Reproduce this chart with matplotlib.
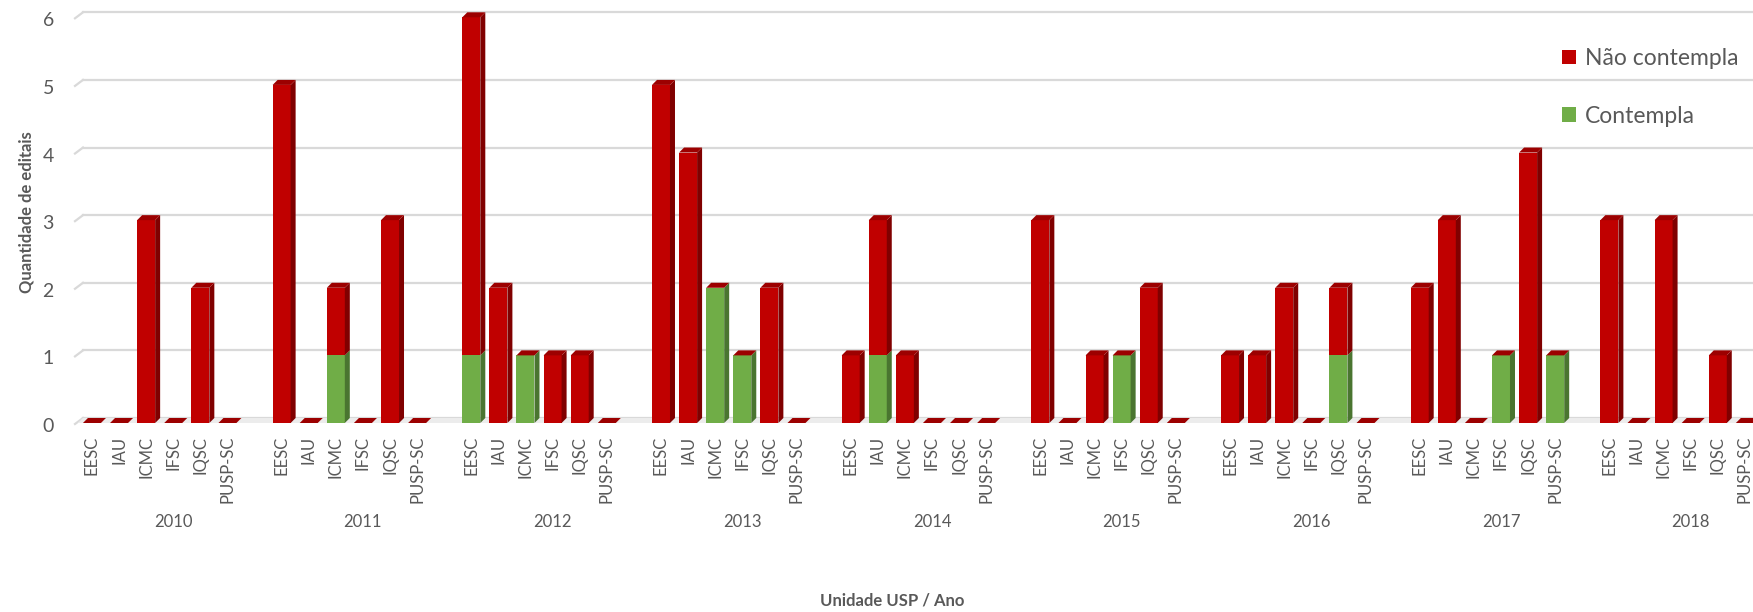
import numpy as np
import matplotlib
matplotlib.use('Agg')
import matplotlib.pyplot as plt
from matplotlib.patches import Polygon, Patch
from matplotlib.transforms import ScaledTranslation

plt.rcParams['font.family'] = ['Lato', 'DejaVu Sans']

units = ['EESC', 'IAU', 'ICMC', 'IFSC', 'IQSC', 'PUSP-SC']
years = ['2010', '2011', '2012', '2013', '2014', '2015', '2016', '2017', '2018']

# one row per year, columns follow `units`
contempla = [
    [0, 0, 0, 0, 0, 0],
    [0, 0, 1, 0, 0, 0],
    [1, 0, 1, 0, 0, 0],
    [0, 0, 2, 1, 0, 0],
    [0, 1, 0, 0, 0, 0],
    [0, 0, 0, 1, 0, 0],
    [0, 0, 0, 0, 1, 0],
    [0, 0, 0, 1, 0, 1],
    [0, 0, 0, 0, 0, 0],
]
nao_contempla = [
    [0, 0, 3, 0, 2, 0],
    [5, 0, 1, 0, 3, 0],
    [5, 2, 0, 1, 1, 0],
    [5, 4, 0, 0, 2, 0],
    [1, 2, 1, 0, 0, 0],
    [3, 0, 1, 0, 2, 0],
    [1, 1, 2, 0, 1, 0],
    [2, 3, 0, 0, 4, 0],
    [3, 0, 3, 0, 1, 0],
]

RED, RED_SIDE, RED_TOP = '#c00000', '#800000', '#9c0000'
GREEN, GREEN_SIDE = '#70ad47', '#4a7530'
GRID = '#d9d9d9'
TXT = '#595959'

W, H, DPI = 1753, 612, 100
fig = plt.figure(figsize=(W / DPI, H / DPI), dpi=DPI)

# axes placed in pixel terms: back wall from x=83, y gridlines 0 -> 418px, 6 -> 12px
left, right, y0px, y6px = 83, 1753, 418, 12.3
ax = fig.add_axes([left / W, 1 - y0px / H, (right - left) / W, (y0px - y6px) / H])

n_units = len(units)
slot = n_units + 1
xs = np.array([y * slot + u for y in range(len(years)) for u in range(n_units)], dtype=float)
green = np.array(contempla, dtype=float).ravel()
red = np.array(nao_contempla, dtype=float).ravel()

ax.set_xlim(-0.33, 61.3)
ax.set_ylim(0, 6)

px_x = (right - left) / (61.3 + 0.33)
px_y = (y0px - y6px) / 6
depth_px = 5
dx, dy = depth_px / px_x, depth_px / px_y
bw = 18 / px_x

# bars sit one depth below the back wall
shift = ax.transData + ScaledTranslation(0, -depth_px / DPI, fig.dpi_scale_trans)

# floor
floor = Polygon([(-0.33 - dx, 0), (70, 0), (70, dy), (-0.33, dy)], closed=True,
                facecolor='#ececec', edgecolor='none', transform=shift, clip_on=False, zorder=1)
ax.add_patch(floor)


def bar3d(x, b, h, face, side):
    if h <= 0:
        return
    l, r = x - bw / 2, x + bw / 2
    ax.add_patch(Polygon([(l, b), (r, b), (r, b + h), (l, b + h)], closed=True,
                         facecolor=face, edgecolor='none', transform=shift, clip_on=False, zorder=3))
    ax.add_patch(Polygon([(r, b), (r + dx, b + dy), (r + dx, b + h + dy), (r, b + h)], closed=True,
                         facecolor=side, edgecolor='none', transform=shift, clip_on=False, zorder=3))


for x, g, r in zip(xs, green, red):
    bar3d(x, 0, g, GREEN, GREEN_SIDE)
    bar3d(x, g, r, RED, RED_SIDE)
    top = g + r
    l, rr = x - bw / 2, x + bw / 2
    ax.add_patch(Polygon([(l, top), (rr, top), (rr + dx, top + dy), (l + dx, top + dy)], closed=True,
                         facecolor=RED_TOP, edgecolor='none', transform=shift, clip_on=False, zorder=3))

# gridlines with the small diagonal on the left side wall
yt = np.arange(0, 7)
for v in yt:
    ax.plot([-0.33, 70], [v, v], color=GRID, lw=1.6, clip_on=False, zorder=0)
    ax.plot([-0.33 - 8 / px_x, -0.33], [v - 6 / px_y, v], color=GRID, lw=1.6, clip_on=False, zorder=0)

for s in ax.spines.values():
    s.set_visible(False)

ax.set_yticks(yt)
ax.set_yticklabels([str(v) for v in yt], fontsize=14, color=TXT)
ax.tick_params(axis='y', length=0, pad=21)
for lab in ax.get_yticklabels():
    lab.set_transform(lab.get_transform() + ScaledTranslation(0, -7 / DPI, fig.dpi_scale_trans))

ax.set_xticks(xs)
ax.set_xticklabels(units * len(years), rotation=90, fontsize=12, color=TXT, va='top')
ax.tick_params(axis='x', length=0, pad=13)

for i, yr in enumerate(years):
    ax.text(i * slot + 3, 0, yr, transform=ax.transData + ScaledTranslation(0, -104 / DPI, fig.dpi_scale_trans),
            ha='center', va='center', fontsize=12, color=TXT)

fig.text(892 / W, 1 - 600 / H, 'Unidade USP / Ano', ha='center', va='center',
         fontsize=12, fontweight='bold', color=TXT)
fig.text(27 / W, 1 - 212 / H, 'Quantidade de editais', ha='center', va='center', rotation=90,
         fontsize=12, fontweight='bold', color=TXT)

handles = [Patch(facecolor=RED, edgecolor='none', label='Não contempla'),
           Patch(facecolor=GREEN, edgecolor='none', label='Contempla')]
fig.legend(handles=handles, loc='upper left', bbox_to_anchor=(1562 / W, 1 - 48 / H),
           frameon=False, fontsize=16.5, labelcolor=TXT, handlelength=0.6, handleheight=0.6,
           handletextpad=0.4, labelspacing=1.6, borderpad=0, borderaxespad=0)

fig.savefig('out.png', dpi=DPI)
